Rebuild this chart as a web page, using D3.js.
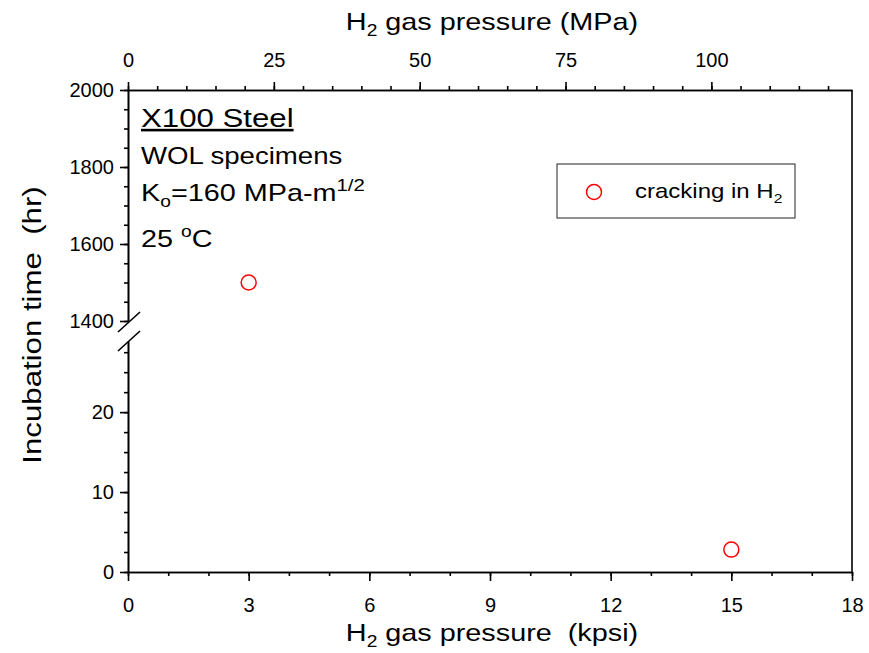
<!DOCTYPE html>
<html>
<head>
<meta charset="utf-8">
<script src="https://cdn.jsdelivr.net/npm/d3@7"></script>
<style>
  body { margin: 0; background: #fff; }
  svg text { font-family: Arial, "Liberation Sans", sans-serif; fill: #000; white-space: pre; }
  .axis path, .axis line { stroke: #000; stroke-width: 1.6; }
</style>
</head>
<body>
<div id="app"></div>
<script>
// data
var pressureKpsi = [3, 15];
var incubationHr = [1500, 2.8];
var seriesName = 'cracking in H';

var bottomTicks = [0, 3, 6, 9, 12, 15, 18];
var topTicks = [0, 25, 50, 75, 100];
var upperTicks = [1400, 1600, 1800, 2000];
var lowerTicks = [0, 10, 20];

// the original lettering is a bit wide
var SX = 1.2;

var svg = d3.select('#app')
  .append('svg')
    .attr('width', 869)
    .attr('height', 653);

var x = d3.scaleLinear().domain([0, 18]).range([128, 852]);
var xTop = d3.scaleLinear().domain([0, 18 * 6.894757]).range([128, 852]);
var yHi = d3.scaleLinear().domain([1400, 2000]).range([321, 90]);
var yLo = d3.scaleLinear().domain([0, 28.9]).range([572, 341]);

function yOf(v) { return v >= 1400 ? yHi(v) : yLo(v); }

function styleText(g, size) {
  g.selectAll('text')
    .style('font-size', size + 'px')
    .attr('fill', '#000');
}

// wide text placed at (px,py)
function label(px, py, size, rot) {
  return svg.append('text')
    .attr('transform', 'translate(' + px + ',' + py + ')' + (rot ? ' rotate(' + rot + ')' : '') + ' scale(' + SX + ',1)')
    .style('font-size', size + 'px');
}

// bottom axis
svg.append('g').attr('class', 'axis')
    .attr('transform', 'translate(0,572)')
    .call(d3.axisBottom(x).tickValues(d3.range(0, 19, 1)).tickSize(4).tickSizeOuter(0).tickFormat(''));
svg.append('g').attr('class', 'axis')
    .attr('transform', 'translate(0,572)')
    .call(d3.axisBottom(x).tickValues(bottomTicks).tickSize(9).tickSizeOuter(0).tickPadding(17))
    .call(styleText, 20);

// top axis (MPa)
svg.append('g').attr('class', 'axis')
    .attr('transform', 'translate(0,90)')
    .call(d3.axisTop(xTop).tickValues(d3.range(0, 124, 5)).tickSize(4).tickSizeOuter(0).tickFormat(''));
svg.append('g').attr('class', 'axis')
    .attr('transform', 'translate(0,90)')
    .call(d3.axisTop(xTop).tickValues(topTicks).tickSize(8).tickSizeOuter(0).tickPadding(15))
    .call(styleText, 20);

// left axis, upper part
svg.append('g').attr('class', 'axis')
    .attr('transform', 'translate(128,0)')
    .call(d3.axisLeft(yHi).tickValues(d3.range(1400, 2001, 50)).tickSize(4).tickSizeOuter(0).tickFormat(''));
svg.append('g').attr('class', 'axis')
    .attr('transform', 'translate(128,0)')
    .call(d3.axisLeft(yHi).tickValues(upperTicks).tickSize(8).tickSizeOuter(0).tickPadding(6).tickFormat(d3.format('d')))
    .call(styleText, 20);

// left axis, lower part
svg.append('g').attr('class', 'axis')
    .attr('transform', 'translate(128,0)')
    .call(d3.axisLeft(yLo).tickValues(d3.range(0, 28, 2.5)).tickSize(4).tickSizeOuter(0).tickFormat(''));
svg.append('g').attr('class', 'axis')
    .attr('transform', 'translate(128,0)')
    .call(d3.axisLeft(yLo).tickValues(lowerTicks).tickSize(8).tickSizeOuter(0).tickPadding(6).tickFormat(d3.format('d')))
    .call(styleText, 20);

// right border
svg.append('line')
    .attr('x1', 852).attr('x2', 852)
    .attr('y1', 90).attr('y2', 572)
    .attr('stroke', '#000').attr('stroke-width', 1.6);

// axis break marks
var breaks = [yHi.range()[0] + 1, yLo.range()[1]];
svg.selectAll('.brk')
    .data(breaks)
  .enter().append('line')
    .attr('class', 'brk')
    .attr('x1', 118).attr('x2', 140)
    .attr('y1', function(d){ return d + 10; })
    .attr('y2', function(d){ return d - 10; })
    .attr('stroke', '#000').attr('stroke-width', 1.6);

// points
svg.selectAll('circle.pt')
    .data(pressureKpsi)
  .enter().append('circle')
    .attr('class', 'pt')
    .attr('cx', function(d){ return x(d); })
    .attr('cy', function(d, i){ return yOf(incubationHr[i]); })
    .attr('r', 7.5)
    .attr('fill', 'none')
    .attr('stroke', '#ff0000')
    .attr('stroke-width', 1.5);

// axis titles
var t = label(492, 641, 24).attr('text-anchor', 'middle');
t.append('tspan').text('H');
t.append('tspan').text('2').style('font-size', '16px').attr('dy', 6);
t.append('tspan').text(' gas pressure  (kpsi)').attr('dy', -6);

var tt = label(492, 30, 24).attr('text-anchor', 'middle');
tt.append('tspan').text('H');
tt.append('tspan').text('2').style('font-size', '16px').attr('dy', 6);
tt.append('tspan').text(' gas pressure (MPa)').attr('dy', -6);

label(41, 325, 26, -90)
    .attr('text-anchor', 'middle')
    .text('Incubation time  (hr)');

// annotation
var ax = 141;
label(ax, 127, 26)
    .style('text-decoration', 'underline')
    .text('X100 Steel');
label(ax, 164, 23).text('WOL specimens');
var k = label(ax, 201, 24);
k.append('tspan').text('K');
k.append('tspan').text('o').style('font-size', '16px').attr('dy', 6);
k.append('tspan').text('=160 MPa-m').attr('dy', -6);
k.append('tspan').text('1/2').style('font-size', '17px').attr('dy', -10);
var c = label(ax, 247, 24);
c.append('tspan').text('25 ');
c.append('tspan').text('o').style('font-size', '16px').attr('dy', -10);
c.append('tspan').text('C').attr('dy', 10);

// legend
var lg = svg.append('g').attr('transform', 'translate(557,164)');
lg.append('rect')
    .attr('width', 238).attr('height', 54)
    .attr('fill', '#fff').attr('stroke', '#222').attr('stroke-width', 1);
lg.append('circle')
    .attr('cx', 37).attr('cy', 28).attr('r', 7.5)
    .attr('fill', 'none').attr('stroke', '#ff0000').attr('stroke-width', 1.5);
var lt = lg.append('text')
    .attr('transform', 'translate(78,34) scale(' + SX + ',1)')
    .style('font-size', '20px');
lt.append('tspan').text(seriesName);
lt.append('tspan').text('2').style('font-size', '13px').attr('dy', 5);
</script>
</body>
</html>
